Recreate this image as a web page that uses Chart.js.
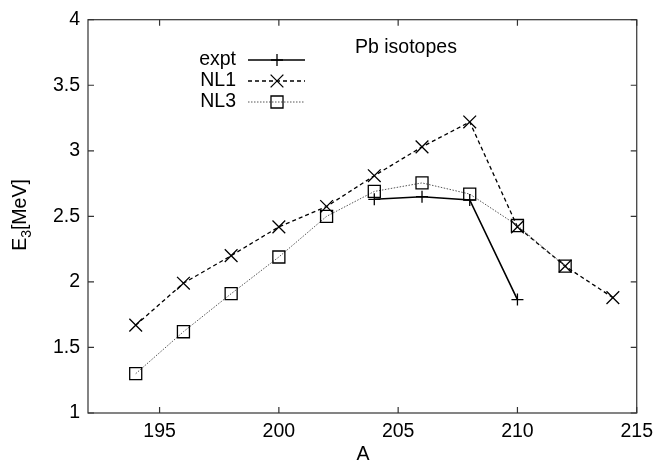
<!DOCTYPE html>
<html>
<head>
<meta charset="utf-8">
<script src="https://cdn.jsdelivr.net/npm/chart.js@4/dist/chart.umd.min.js"></script>
<style>
  html, body { margin: 0; padding: 0; background: #fff; }
  #wrap { width: 660px; height: 467px; }
</style>
</head>
<body>
<div id="wrap"><canvas id="myChart" width="660" height="467"></canvas></div>
<script>
// data
const exptA = [204, 206, 208, 210];
const exptE = [2.63, 2.65, 2.625, 1.865];
const nl1A = [194, 196, 198, 200, 202, 204, 206, 208, 210, 212, 214];
const nl1E = [1.67, 1.99, 2.20, 2.42, 2.575, 2.81, 3.03, 3.22, 2.42, 2.12, 1.88];
const nl3A = [194, 196, 198, 200, 202, 204, 206, 208, 210, 212];
const nl3E = [1.30, 1.62, 1.91, 2.19, 2.50, 2.69, 2.755, 2.67, 2.43, 2.12];
const xTicks = [195, 200, 205, 210, 215];
const yTicks = [1, 1.5, 2, 2.5, 3, 3.5, 4];

const font = "'Liberation Sans', Arial, sans-serif";
const fs = 19.5;
const toXY = (xs, ys) => xs.map((x, i) => ({ x: x, y: ys[i] }));

const legendItems = [
  { label: "expt", dash: [], color: "#000", width: 1.6, style: "cross", r: 6 },
  { label: "NL1", dash: [4, 3], color: "#000", width: 1.3, style: "crossRot", r: 9 },
  { label: "NL3", dash: [1.5, 1.5], color: "#555", width: 1, style: "rect", r: 8.5 }
];

// frame, inner ticks, legend and labels (gnuplot look)
const decor = {
  id: "decor",
  afterDraw(chart) {
    const ctx = chart.ctx;
    const a = chart.chartArea;
    const xs = chart.scales.x, ys = chart.scales.y;
    ctx.save();
    ctx.strokeStyle = "#333";
    ctx.lineWidth = 1.2;
    ctx.strokeRect(a.left, a.top, a.right - a.left, a.bottom - a.top);
    ctx.beginPath();
    xTicks.forEach(v => {
      const px = xs.getPixelForValue(v);
      ctx.moveTo(px, a.bottom); ctx.lineTo(px, a.bottom - 6);
      ctx.moveTo(px, a.top); ctx.lineTo(px, a.top + 6);
    });
    yTicks.forEach(v => {
      const py = ys.getPixelForValue(v);
      ctx.moveTo(a.left, py); ctx.lineTo(a.left + 6, py);
      ctx.moveTo(a.right, py); ctx.lineTo(a.right - 6, py);
    });
    ctx.stroke();

    // legend
    ctx.font = fs + "px " + font;
    ctx.fillStyle = "#000";
    ctx.textBaseline = "middle";
    legendItems.forEach((it, i) => {
      const y = 60 + i * 21;
      ctx.textAlign = "right";
      ctx.fillStyle = "#000";
      ctx.fillText(it.label, 236, y);
      ctx.save();
      ctx.strokeStyle = it.color;
      ctx.lineWidth = it.width;
      ctx.setLineDash(it.dash);
      ctx.beginPath();
      ctx.moveTo(248, y); ctx.lineTo(305, y);
      ctx.stroke();
      ctx.setLineDash([]);
      ctx.strokeStyle = "#000";
      ctx.fillStyle = "rgba(0,0,0,0)";
      ctx.lineWidth = 1.3;
      Chart.helpers.drawPoint(ctx, { pointStyle: it.style, radius: it.r, borderWidth: 1.3 }, 277, y);
      ctx.restore();
    });

    ctx.fillStyle = "#000";
    ctx.textAlign = "left";
    ctx.fillText("Pb isotopes", 355, 48);

    // axis titles
    ctx.textAlign = "center";
    ctx.fillText("A", 363, 455);
    ctx.save();
    ctx.translate(21, 215);
    ctx.rotate(-Math.PI / 2);
    ctx.textAlign = "left";
    const wE = ctx.measureText("E").width;
    ctx.font = "14px " + font;
    const w3 = ctx.measureText("3").width;
    ctx.font = fs + "px " + font;
    const wM = ctx.measureText("[MeV]").width;
    let x0 = -(wE + w3 + wM) / 2;
    ctx.fillText("E", x0, 0);
    ctx.font = "14px " + font;
    ctx.fillText("3", x0 + wE, 6);
    ctx.font = fs + "px " + font;
    ctx.fillText("[MeV]", x0 + wE + w3, 0);
    ctx.restore();
    ctx.restore();
  }
};

new Chart(document.getElementById("myChart"), {
  type: "line",
  data: {
    datasets: [
      {
        label: "NL3",
        data: toXY(nl3A, nl3E),
        borderColor: "#555",
        borderWidth: 1,
        borderDash: [1.5, 1.5],
        pointStyle: "rect",
        pointRadius: 8.5,
        pointBorderColor: "#000",
        pointBorderWidth: 1.3,
        pointBackgroundColor: "rgba(0,0,0,0)"
      },
      {
        label: "NL1",
        data: toXY(nl1A, nl1E),
        borderColor: "#000",
        borderWidth: 1.3,
        borderDash: [4, 3],
        pointStyle: "crossRot",
        pointRadius: 9,
        pointBorderColor: "#000",
        pointBorderWidth: 1.3
      },
      {
        label: "expt",
        data: toXY(exptA, exptE),
        borderColor: "#000",
        borderWidth: 1.6,
        pointStyle: "cross",
        pointRadius: 6,
        pointBorderColor: "#000",
        pointBorderWidth: 1.3
      }
    ]
  },
  options: {
    responsive: false,
    animation: false,
    layout: { padding: { top: 16, right: 20, left: 0, bottom: 0 } },
    plugins: { legend: { display: false }, tooltip: { enabled: false } },
    scales: {
      x: {
        type: "linear",
        min: 192,
        max: 215,
        afterBuildTicks: s => { s.ticks = xTicks.map(v => ({ value: v })); },
        afterFit: s => { s.height = 54; },
        grid: { display: false, drawTicks: false },
        border: { display: false },
        ticks: { padding: 7, color: "#000", font: { family: font, size: fs }, callback: v => String(v) }
      },
      y: {
        min: 1,
        max: 4,
        afterBuildTicks: s => { s.ticks = yTicks.map(v => ({ value: v })); },
        afterFit: s => { s.width = 88; },
        grid: { display: false, drawTicks: false },
        border: { display: false },
        ticks: { padding: 8, color: "#000", font: { family: font, size: fs }, callback: v => String(v) }
      }
    }
  },
  plugins: [decor]
});
</script>
</body>
</html>
